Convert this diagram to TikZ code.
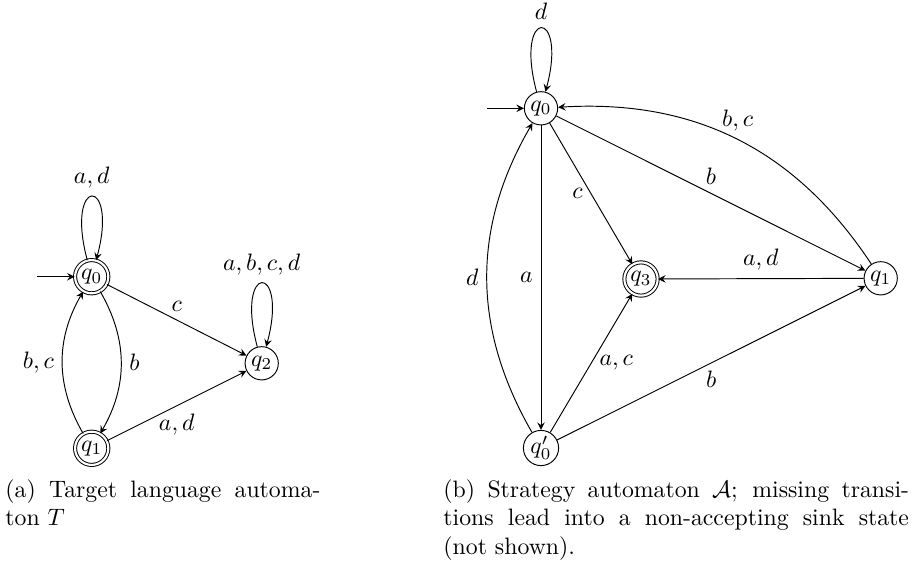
\documentclass[tikz,border=0pt]{standalone}
\usepackage{amsmath}
\usepackage{xcolor}
\usepackage{tikz}
\usetikzlibrary{arrows,positioning,calc}
\tikzstyle{arr}      =[->, >=stealth]
\tikzstyle{stnode}   =[draw, circle, minimum size=14pt, inner sep=0.5pt]
\tikzstyle{accnode}  =[stnode, double, double distance=0.9pt]
\tikzstyle{selfloop} =[loop above, min distance=37pt]

\begin{document}
\begin{tikzpicture}[x=0.421pt, y=-0.421pt, every node/.style={font=\normalsize}]
  \useasboundingbox (0,0) rectangle (915,563);

  % (a) states
  \node[accnode] (ta0) at (91.7, 276.7) {$q_0$};
  \node[accnode] (ta1) at (91.7, 448.3) {$q_1$};
  \node[stnode]  (ta2) at (261.7, 363.3) {$q_2$};
  \coordinate (ta0in) at (37, 276.7);

  % (a) transitions
  \draw[arr] (ta0in) -- (ta0);
  \draw[arr] (ta0) to[selfloop] node[above]{$a, d$} (ta0);
  \draw[arr] (ta0) -- node[above]{$c$} (ta2);
  \draw[arr] (ta0) to[bend left=30] node[right]{$b$} (ta1);
  \draw[arr] (ta1) to[bend left=30] node[left]{$b, c$} (ta0);
  \draw[arr] (ta1) -- node[below]{$a, d$} (ta2);
  \draw[arr] (ta2) to[selfloop] node[above]{$a, b, c, d$} (ta2);

  % (b) states
  \node[stnode]  (sb0)  at (541, 108.3) {$q_0$};
  \node[accnode] (sb3)  at (641, 279) {$q_3$};
  \node[stnode]  (sb1)  at (880.7, 278.3) {$q_1$};
  \node[stnode]  (sb0p) at (541, 448) {$q_0'$};
  \coordinate (sb0in) at (487, 108.3);

  % (b) transitions
  \draw[arr] (sb0in) -- (sb0);
  \draw[arr] (sb0) to[selfloop] node[above]{$d$} (sb0);
  \draw[arr] (sb0) -- node[left]{$a$} (sb0p);
  \draw[arr] (sb0p) to[bend left=30] node[left]{$d$} (sb0);
  \draw[arr] (sb0) -- node[left]{$c$} (sb3);
  \draw[arr] (sb0) -- node[above]{$b$} (sb1);
  \draw[arr] (sb1) to[bend right=30] node[above]{$b, c$} (sb0);
  \draw[arr] (sb1) -- node[above]{$a, d$} (sb3);
  \draw[arr] (sb0p) -- node[right]{$a, c$} (sb3);
  \draw[arr] (sb0p) -- node[below]{$b$} (sb1);

  % captions
  \node[anchor=north west, inner sep=0pt, text width=132.6pt, align=justify]
    (capa) at (5, 479) {(a) Target language automa-\linebreak ton $T$};
  \node[anchor=north west, inner sep=0pt, text width=196pt, align=justify]
    (capb) at (443, 479) {(b) Strategy automaton $\mathcal{A}$; missing
    transi-\linebreak tions lead into a non-accepting sink state\linebreak
    (not shown).};

\end{tikzpicture}
\end{document}
